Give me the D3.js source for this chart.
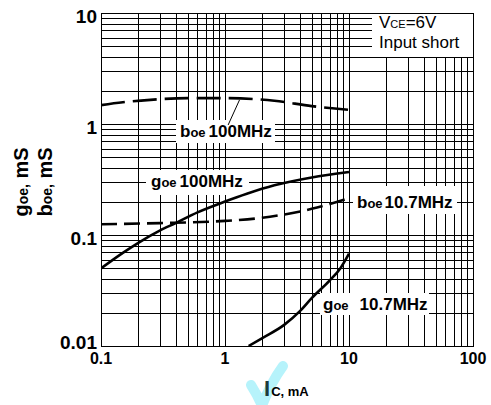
<!DOCTYPE html>
<html>
<head>
<meta charset="utf-8">
<script src="https://cdn.jsdelivr.net/npm/d3@7/dist/d3.min.js"></script>
<style>
  html, body { margin: 0; padding: 0; background: #fff; }
  svg { display: block; font-family: "Liberation Sans", Arial, sans-serif; }
</style>
</head>
<body>
<svg id="chart" width="491" height="405"></svg>
<script>
// Collector current Ic (mA) and output admittance goe / boe (mS), VCE = 6 V
const xTickLabels = ["0.1", "1", "10", "100"];
const yTickLabels = ["0.01", "0.1", "1", "10"];

const boe100Ic = [0.1, 0.15, 0.25, 0.5, 1, 2.5, 5, 10];
const boe100Val = [1.48, 1.57, 1.65, 1.71, 1.71, 1.62, 1.45, 1.34];

const goe100Ic = [0.1, 0.15, 0.2, 0.3, 0.4, 0.6, 1, 1.5, 2.5, 5, 10];
const goe100Val = [0.05, 0.069, 0.085, 0.11, 0.128, 0.16, 0.2, 0.235, 0.28, 0.33, 0.37];

const boe107Ic = [0.1, 0.3, 1, 2, 3, 5, 7, 10];
const boe107Val = [0.125, 0.128, 0.134, 0.143, 0.153, 0.172, 0.19, 0.215];

const goe107Ic = [1.55, 2, 3, 4, 5, 7, 8.5, 10];
const goe107Val = [0.01, 0.0118, 0.0155, 0.0205, 0.027, 0.039, 0.05, 0.068];

const margin = { left: 101, top: 13, right: 18, bottom: 59 };
const W = 491, H = 405;
const iw = W - margin.left - margin.right;
const ih = H - margin.top - margin.bottom;

const svg = d3.select("#chart");
const g = svg.append("g").attr("transform", `translate(${margin.left},${margin.top})`);

const x = d3.scaleLog().domain([0.1, 100]).range([0, iw]);
const y = d3.scaleLog().domain([0.01, 10]).range([ih, 0]);

svg.append("defs").append("clipPath").attr("id", "plotclip")
  .append("rect").attr("width", iw).attr("height", ih);

// log grid: every 1..9 step of each decade
const xGrid = x.ticks(30);
const yGrid = y.ticks(40);
const grid = g.append("g").attr("stroke", "#000").attr("stroke-width", 1).attr("shape-rendering", "crispEdges");
grid.selectAll("line.v").data(xGrid).join("line")
  .attr("x1", d => Math.round(x(d)) + 0.5).attr("x2", d => Math.round(x(d)) + 0.5)
  .attr("y1", 0).attr("y2", ih);
grid.selectAll("line.h").data(yGrid).join("line")
  .attr("y1", d => Math.round(y(d)) + 0.5).attr("y2", d => Math.round(y(d)) + 0.5)
  .attr("x1", 0).attr("x2", iw);

// white label panels that break the grid
function panel(x0, x1, y0, y1) {
  g.append("rect").attr("x", x0 - margin.left).attr("y", y0 - margin.top)
    .attr("width", x1 - x0).attr("height", y1 - y0).attr("fill", "#fff");
}
panel(372, 473, 13, 57);
panel(176, 275, 120, 143);
panel(146, 249, 170, 195);
panel(353, 457, 186, 214);
panel(320, 429, 293, 315);

// frame
g.append("rect").attr("x", 0.5).attr("y", 0.5).attr("width", iw).attr("height", ih)
  .attr("fill", "none").attr("stroke", "#000").attr("stroke-width", 1).attr("shape-rendering", "crispEdges");

// curves
const line = d3.line().x(d => x(d[0])).y(d => y(d[1])).curve(d3.curveMonotoneX);
const curves = g.append("g").attr("clip-path", "url(#plotclip)")
  .attr("fill", "none").attr("stroke", "#000").attr("stroke-width", 2.6);
const series = [
  { ic: boe100Ic, v: boe100Val, dash: "24 8" },
  { ic: goe100Ic, v: goe100Val, dash: null },
  { ic: boe107Ic, v: boe107Val, dash: "16 7" },
  { ic: goe107Ic, v: goe107Val, dash: null }
];
series.forEach(s => {
  curves.append("path")
    .attr("d", line(d3.zip(s.ic, s.v)))
    .attr("stroke-dasharray", s.dash);
});

// leader from the boe 100MHz label to its curve
g.append("line")
  .attr("x1", x(1.06)).attr("y1", y(0.98))
  .attr("x2", x(1.31)).attr("y2", y(1.65))
  .attr("stroke", "#000").attr("stroke-width", 1);

// axis tick labels
const xTickVals = xTickLabels.map(Number);
svg.append("g").selectAll("text").data(xTickVals).join("text")
  .attr("x", d => margin.left + x(d))
  .attr("y", margin.top + ih + 18)
  .attr("text-anchor", "middle")
  .attr("font-size", 16).attr("font-weight", "bold")
  .text((d, i) => xTickLabels[i]);

const yTickVals = yTickLabels.map(Number);
svg.append("g").selectAll("text").data(yTickVals).join("text")
  .attr("x", margin.left - 4)
  .attr("y", d => Math.min(margin.top + y(d) + 10, margin.top + ih + 3))
  .attr("text-anchor", "end")
  .attr("font-size", 19).attr("font-weight", "bold")
  .text((d, i) => yTickLabels[i]);

// series labels: large letter + small subscript-like suffix
function seriesLabel(px, py, big, small, rest, gap) {
  const t = svg.append("text").attr("x", px).attr("y", py)
    .attr("font-weight", "bold").attr("font-size", 17);
  t.append("tspan").text(big);
  t.append("tspan").attr("font-size", 13).text(small);
  t.append("tspan").attr("font-size", 17).attr("dx", gap).text(rest);
}
seriesLabel(180, 137, "b", "oe", "100MHz", 3);
seriesLabel(151, 187, "g", "oe", "100MHz", 3);
seriesLabel(357, 208, "b", "oe", "10.7MHz", 2);
seriesLabel(323, 310, "g", "oe", "10.7MHz", 11);

// conditions note
const note = svg.append("g").attr("font-size", 17);
const n1 = note.append("text").attr("x", 379).attr("y", 28);
n1.append("tspan").text("V");
n1.append("tspan").attr("font-size", 11).text("CE");
n1.append("tspan").text("=6V");
note.append("text").attr("x", 379).attr("y", 48).text("Input short");

// y-axis titles
function yTitle(px, big, small) {
  const t = svg.append("text")
    .attr("transform", `translate(${px},182) rotate(-90)`)
    .attr("text-anchor", "middle")
    .attr("font-weight", "bold").attr("font-size", 20);
  t.append("tspan").text(big);
  t.append("tspan").attr("font-size", 14).text(small);
  t.append("tspan").attr("font-size", 20).text(" mS");
}
yTitle(28, "g", "oe,");
yTitle(52, "b", "oe,");

// decorative cyan mark behind the x-axis title
svg.append("path")
  .attr("d", "M251,385 Q258,396 262,406 Q270,384 283,366")
  .attr("fill", "none").attr("stroke", "#b6f3fb").attr("stroke-width", 10)
  .attr("stroke-linecap", "round");

// x-axis title
const xt = svg.append("text").attr("x", 264).attr("y", 396).attr("font-weight", "bold");
xt.append("tspan").attr("font-size", 22).attr("fill", "#1d3b3b").text("I");
xt.append("tspan").attr("font-size", 13).attr("dx", 1).text("C, mA");
</script>
</body>
</html>
